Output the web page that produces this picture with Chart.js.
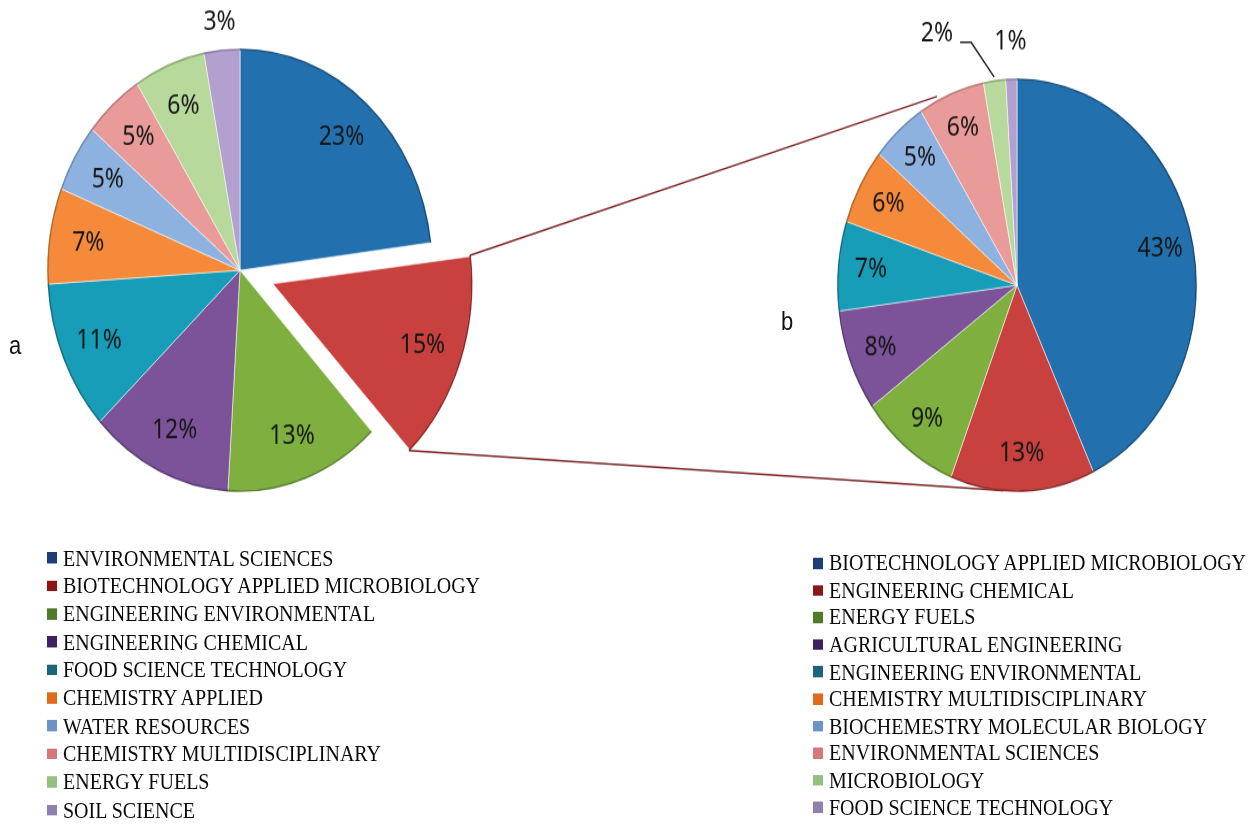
<!DOCTYPE html>
<html lang="en">
<head>
<meta charset="UTF-8">
<title>Pie a / Pie b</title>
<style>
    html, body {
        margin: 0;
        height: 824px;
        background: #ffffff;
    }
    /* the original figure is stretched vertically, so the whole thing is */
    #wrap {
        position: relative;
        width: 1256px;
        height: 824px;
        transform: scaleY(1.15);
        transform-origin: 0 0;
    }
    canvas { position: absolute; top: 0; }
    .tag {
        position: absolute;
        font-family: "Liberation Sans", Arial, sans-serif;
        font-size: 22px;
        color: #111;
    }
    .legend {
        position: absolute;
        font-family: "Liberation Serif", "Times New Roman", serif;
        font-size: 20px;
        color: #0a0a0a;
    }
    .legend div {
        height: 24.35px;
        display: flex;
        align-items: center;
        white-space: nowrap;
    }
    #legB div { height: 23.6px; }
    .legend span.box {
        display: inline-block;
        width: 10px;
        height: 9.5px;
        margin-right: 6px;
    }
</style>
</head>
<body>
<div id="wrap">
    <canvas id="pieA" width="1256" height="470" style="left:0"></canvas>
    <canvas id="pieB" width="476" height="500" style="left:780px"></canvas>
    <div class="tag" style="left:9px; top:288px">a</div>
    <div class="tag" style="left:781px; top:267px">b</div>
    <div class="legend" id="legA" style="left:47px; top:473px"></div>
    <div class="legend" id="legB" style="left:813px; top:478px"></div>
</div>

<script src="https://cdn.jsdelivr.net/npm/chart.js"></script>
<script>
    // ---- data ----
    const catsA = ['ENVIRONMENTAL SCIENCES', 'BIOTECHNOLOGY APPLIED MICROBIOLOGY', 'ENGINEERING ENVIRONMENTAL',
        'ENGINEERING CHEMICAL', 'FOOD SCIENCE TECHNOLOGY', 'CHEMISTRY APPLIED', 'WATER RESOURCES',
        'CHEMISTRY MULTIDISCIPLINARY', 'ENERGY FUELS', 'SOIL SCIENCE'];
    const valsA = [23, 15, 13, 12, 11, 7, 5, 5, 6, 3];

    const catsB = ['BIOTECHNOLOGY APPLIED MICROBIOLOGY', 'ENGINEERING CHEMICAL', 'ENERGY FUELS',
        'AGRICULTURAL ENGINEERING', 'ENGINEERING ENVIRONMENTAL', 'CHEMISTRY MULTIDISCIPLINARY',
        'BIOCHEMESTRY MOLECULAR BIOLOGY', 'ENVIRONMENTAL SCIENCES', 'MICROBIOLOGY', 'FOOD SCIENCE TECHNOLOGY'];
    const valsB = [43, 13, 9, 8, 7, 6, 5, 6, 2, 1];

    // same colour order for both pies
    const sliceColors = ['#2271ae', '#c8413f', '#7eaf3f', '#7c5399', '#179db8',
        '#f48a3a', '#8db2df', '#e99b9a', '#b7d99b', '#b4a0cf'];
    const rimColors = ['#164f7e', '#8f2a29', '#5a812b', '#573a70', '#0f7186',
        '#b9662a', '#6a8ab2', '#b87777', '#8fae76', '#8a7aa4'];
    const legendColors = ['#1c3f7a', '#8c1616', '#4e7b2a', '#3c2262', '#1a6579',
        '#e0691c', '#6c93c4', '#d67878', '#93bf7f', '#8f80b0'];

    // ---- html legends ----
    function buildLegend(id, cats) {
        const el = document.getElementById(id);
        cats.forEach((c, i) => {
            const row = document.createElement('div');
            row.innerHTML = '<span class="box" style="background:' + legendColors[i] + '"></span>' + c;
            el.appendChild(row);
        });
    }
    buildLegend('legA', catsA);
    buildLegend('legB', catsB);

    // where an arc is really drawn (offset moves it, see ArcElement.draw)
    function arcGeom(arc) {
        const off = (arc.options.offset || 0) / 4;
        const mid = (arc.startAngle + arc.endAngle) / 2;
        const fix = 1 - Math.sin(Math.min(Math.PI, arc.circumference));
        return {
            x: arc.x + Math.cos(mid) * off,
            y: arc.y + Math.sin(mid) * off,
            r: arc.outerRadius + off * fix,
            mid: mid
        };
    }

    // percent labels + darker outer rim
    const pctLabels = {
        id: 'pctLabels',
        afterDatasetsDraw(chart, args, opts) {
            const ctx = chart.ctx;
            const meta = chart.getDatasetMeta(0);
            const vals = chart.data.datasets[0].data;
            ctx.save();
            meta.data.forEach((arc, i) => {
                const g = arcGeom(arc);
                ctx.beginPath();
                ctx.arc(g.x, g.y, g.r, arc.startAngle, arc.endAngle);
                ctx.strokeStyle = rimColors[i];
                ctx.lineWidth = 1.6;
                ctx.stroke();
            });
            ctx.font = '23px "Noto Sans", "Liberation Sans", sans-serif';
            ctx.fillStyle = '#161616';
            ctx.textAlign = 'center';
            ctx.textBaseline = 'middle';
            meta.data.forEach((arc, i) => {
                const g = arcGeom(arc);
                const sp = (opts.special || {})[i];
                const txt = vals[i] + '%';
                if (sp && sp.leader) {
                    const ax = g.x + Math.cos(g.mid) * g.r * 1.02;
                    const ay = g.y + Math.sin(g.mid) * g.r * 1.02;
                    const ex = ax - 23, ey = ay - 30;
                    ctx.beginPath();
                    ctx.moveTo(ax, ay);
                    ctx.lineTo(ex, ey);
                    ctx.lineTo(ex - 11, ey);
                    ctx.strokeStyle = '#222';
                    ctx.lineWidth = 1.5;
                    ctx.stroke();
                    ctx.textAlign = 'right';
                    ctx.fillText(txt, ex - 18, ey - 7);
                    ctx.textAlign = 'center';
                    return;
                }
                const f = sp ? sp.r : opts.frac;
                ctx.fillText(txt, g.x + Math.cos(g.mid) * g.r * f, g.y + Math.sin(g.mid) * g.r * f);
            });
            ctx.restore();
        }
    };

    // ---- pie b (made first so pie a can reach it for the connector lines) ----
    const chartB = new Chart(document.getElementById('pieB'), {
        type: 'pie',
        data: {
            labels: catsB,
            datasets: [{
                data: valsB,
                backgroundColor: sliceColors,
                borderColor: 'rgba(255,255,255,0.55)',
                borderWidth: 1
            }]
        },
        options: {
            responsive: false,
            animation: false,
            radius: 179,
            layout: { padding: { left: 57, right: 59, top: 68, bottom: 72 } },
            plugins: {
                legend: { display: false },
                tooltip: { enabled: false },
                pctLabels: { frac: 0.82, special: { 8: { leader: true }, 9: { r: 1.18 } } }
            }
        },
        plugins: [pctLabels]
    });

    // lines from the exploded slice of a to pie b
    const connector = {
        id: 'connector',
        afterDatasetsDraw(chart) {
            const arc = chart.getDatasetMeta(0).data[1];
            const g = arcGeom(arc);
            const b = chartB.getDatasetMeta(0).data[0];
            const bx = b.x + 780, by = b.y, br = b.outerRadius;
            const onB = (deg, k) => [bx + Math.sin(deg * Math.PI / 180) * br * k,
                                     by - Math.cos(deg * Math.PI / 180) * br * k];
            const p1 = [g.x + Math.cos(arc.startAngle) * g.r, g.y + Math.sin(arc.startAngle) * g.r];
            const p2 = [g.x + Math.cos(arc.endAngle) * g.r, g.y + Math.sin(arc.endAngle) * g.r];
            const q1 = onB(334, 1.02), q2 = onB(184.5, 1.0);
            const ctx = chart.ctx;
            ctx.save();
            ctx.strokeStyle = '#7a2222';
            ctx.lineWidth = 1.4;
            ctx.beginPath();
            ctx.moveTo(p1[0], p1[1]); ctx.lineTo(q1[0], q1[1]);
            ctx.moveTo(p2[0], p2[1]); ctx.lineTo(q2[0], q2[1]);
            ctx.stroke();
            ctx.restore();
        }
    };

    // ---- pie a ----
    new Chart(document.getElementById('pieA'), {
        type: 'pie',
        data: {
            labels: catsA,
            datasets: [{
                data: valsA,
                backgroundColor: sliceColors,
                borderColor: 'rgba(255,255,255,0.55)',
                borderWidth: 1,
                offset: [0, 140, 0, 0, 0, 0, 0, 0, 0, 0] // arc offset is drawn at 1/4 -> 35px
            }]
        },
        options: {
            responsive: false,
            animation: false,
            radius: 192,
            layout: { padding: { left: 30, right: 806, top: 25, bottom: 25 } },
            plugins: {
                legend: { display: false },
                tooltip: { enabled: false },
                pctLabels: { frac: 0.8, special: { 9: { r: 1.13 } } }
            }
        },
        plugins: [pctLabels, connector]
    });
</script>
</body>
</html>
